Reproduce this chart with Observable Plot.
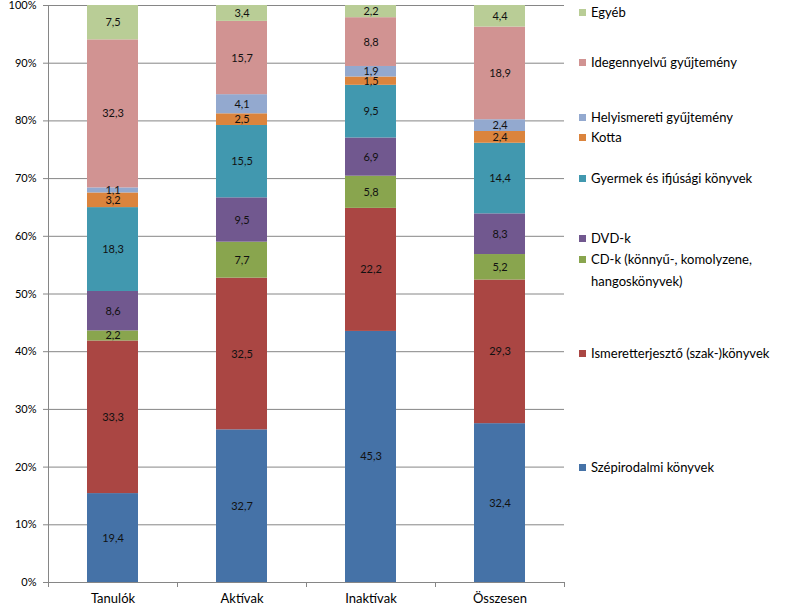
<!DOCTYPE html>
<html>
<head>
<meta charset="utf-8">
<script src="https://cdn.jsdelivr.net/npm/d3@7"></script>
<script src="https://cdn.jsdelivr.net/npm/@observablehq/plot@0.6"></script>
<style>
  html, body { margin: 0; padding: 0; background: #fff; }
  #chart { position: relative; width: 805px; height: 613px; font-family: Lato, "Open Sans", sans-serif; }
  .lg { position: absolute; display: flex; align-items: flex-start; font-size: 13px; color: #000; line-height: 22px; white-space: nowrap; }
  .lg .sw { width: 7px; height: 7px; margin-right: 5px; margin-top: 8px; flex: none; }
</style>
</head>
<body>
<div id="chart"></div>
<script>
// Categories (x axis)
const categories = ["Tanulók", "Aktívak", "Inaktívak", "Összesen"];

// Series (bottom to top of each stack)
const seriesNames = [
  "Szépirodalmi könyvek",
  "Ismeretterjesztő (szak-)könyvek",
  "CD-k (könnyű-, komolyzene, hangoskönyvek)",
  "DVD-k",
  "Gyermek és ifjúsági könyvek",
  "Kotta",
  "Helyismereti gyűjtemény",
  "Idegennyelvű gyűjtemény",
  "Egyéb"
];
const seriesColors = ["#4572A7", "#AA4643", "#89A54E", "#71588F", "#4198AF", "#DB843D", "#93A9CF", "#D19392", "#B9CD96"];

// Values per series, one per category
const szepirodalmi     = [19.4, 32.7, 45.3, 32.4];
const ismeretterjeszto = [33.3, 32.5, 22.2, 29.3];
const cdk              = [2.2, 7.7, 5.8, 5.2];
const dvdk             = [8.6, 9.5, 6.9, 8.3];
const gyermek          = [18.3, 15.5, 9.5, 14.4];
const kotta            = [3.2, 2.5, 1.5, 2.4];
const helyismereti     = [1.1, 4.1, 1.9, 2.4];
const idegennyelvu     = [32.3, 15.7, 8.8, 18.9];
const egyeb            = [7.5, 3.4, 2.2, 4.4];

// Y tick values
const yTicks = [0, 0.1, 0.2, 0.3, 0.4, 0.5, 0.6, 0.7, 0.8, 0.9, 1];

const seriesValues = [szepirodalmi, ismeretterjeszto, cdk, dvdk, gyermek, kotta, helyismereti, idegennyelvu, egyeb];
const data = [];
seriesNames.forEach((s, si) => {
  categories.forEach((c, ci) => {
    data.push({series: s, cat: c, value: seriesValues[si][ci]});
  });
});

const fmt = d => d.value.toFixed(1).replace(".", ",");

const W = 805, H = 613;
const plot = Plot.plot({
  width: W,
  height: H,
  marginLeft: 48,
  marginRight: 241,
  marginTop: 5,
  marginBottom: 31,
  style: {fontFamily: "Lato, 'Open Sans', sans-serif", background: "#fff", overflow: "visible"},
  x: {domain: categories, paddingInner: 0.605, paddingOuter: 0.3025, label: null},
  y: {domain: [0, 1], label: null},
  color: {domain: seriesNames, range: seriesColors},
  marks: [
    Plot.ruleY(yTicks, {stroke: "#868686", strokeWidth: 1, strokeOpacity: 1}),
    Plot.barY(data, {
      x: "cat", y: "value", z: "series", fill: "series",
      order: seriesNames, offset: "normalize"
    }),
    Plot.text(data, Plot.stackY({
      x: "cat", y: "value", z: "series",
      order: seriesNames, offset: "normalize",
      text: fmt, fill: "#111", fontSize: 11
    })),
    Plot.axisY({
      ticks: yTicks, tickSize: 5, tickPadding: 7,
      tickFormat: d => Math.round(d * 100) + "%",
      fontSize: 11, stroke: "#868686", strokeOpacity: 1, label: null, color: "#000"
    }),
    Plot.axisX({tickSize: 0, tickPadding: 11, fontSize: 13, label: null, color: "#000"})
  ]
});

// Add Excel-style axis line and category boundary ticks, derived from the scales
const xs = plot.scale("x");
const ys = plot.scale("y");
const svg = d3.select(plot);
const y0 = ys.apply(0), y1 = ys.apply(1);
const half = (xs.step - xs.bandwidth) / 2;
const bounds = categories.map(c => xs.apply(c) - half);
bounds.push(xs.apply(categories[categories.length - 1]) + xs.bandwidth + half);
const g = svg.append("g").attr("stroke", "#868686").attr("stroke-width", 1).attr("shape-rendering", "crispEdges");
g.append("line").attr("x1", bounds[0]).attr("x2", bounds[0]).attr("y1", y1).attr("y2", y0);
bounds.forEach(b => g.append("line").attr("x1", b).attr("x2", b).attr("y1", y0).attr("y2", y0 + 5));

const chart = document.getElementById("chart");
chart.appendChild(plot);
plot.style.position = "absolute";
plot.style.left = "0";
plot.style.top = "0";

// Legend (Excel-style, on the right)
const legendTops = [1, 51, 106, 126, 167, 227, 248, 342, 456];
const legendOrder = [8, 7, 6, 5, 4, 3, 2, 1, 0];
legendOrder.forEach((si, i) => {
  const el = document.createElement("div");
  el.className = "lg";
  el.style.left = "579px";
  el.style.top = legendTops[i] + "px";
  const sw = document.createElement("span");
  sw.className = "sw";
  sw.style.background = seriesColors[si];
  const tx = document.createElement("span");
  const name = seriesNames[si];
  if (name.startsWith("CD-k")) {
    tx.innerHTML = "CD-k (könnyű-, komolyzene,<br>hangoskönyvek)";
  } else {
    tx.textContent = name;
  }
  el.appendChild(sw);
  el.appendChild(tx);
  chart.appendChild(el);
});
</script>
</body>
</html>
